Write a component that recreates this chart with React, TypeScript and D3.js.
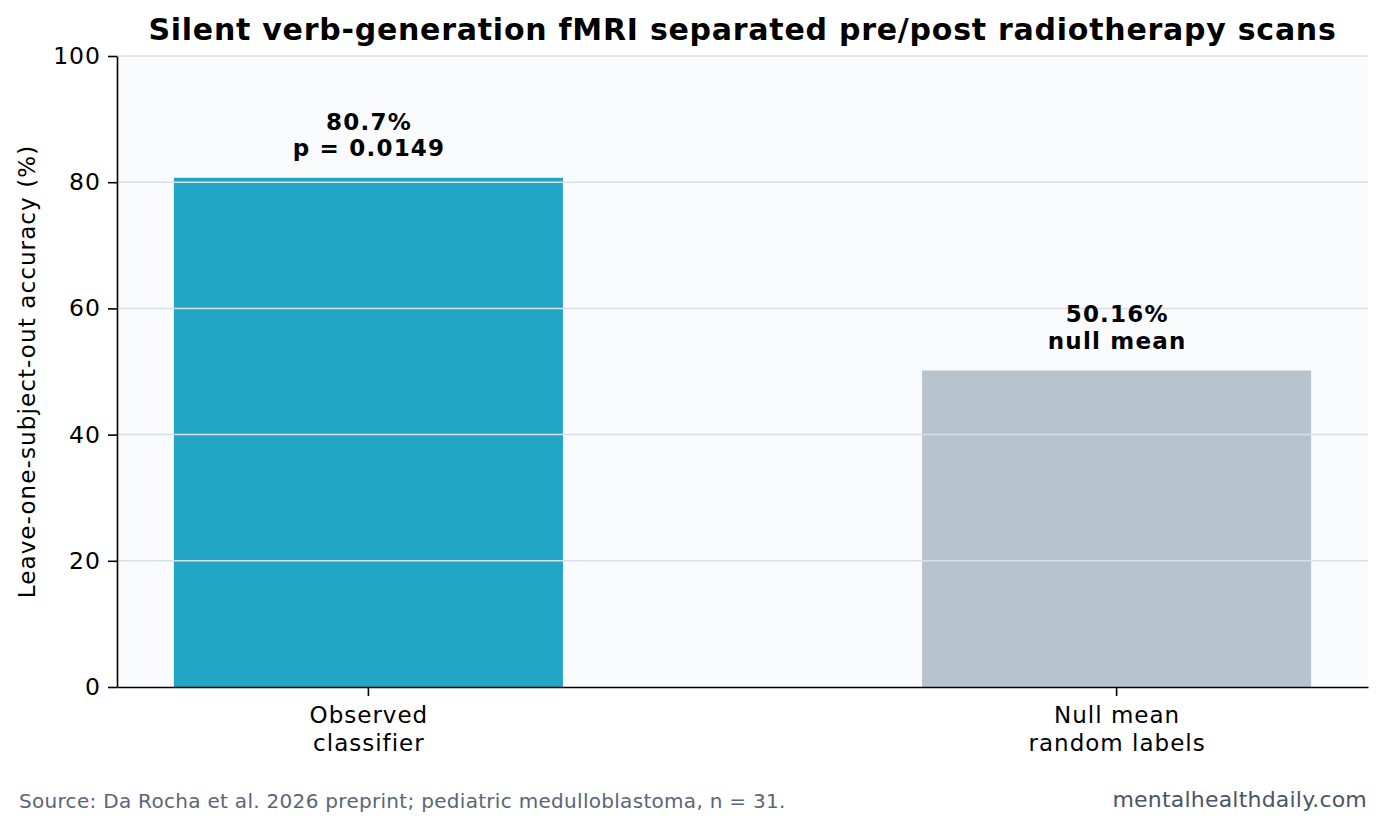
import { useRef, useEffect } from "react";
import * as d3 from "d3";

const categories = ["Observed\nclassifier", "Null mean\nrandom labels"];
const accuracies = [80.7, 50.16];
const barLabels = [
  ["80.7%", "p = 0.0149"],
  ["50.16%", "null mean"],
];
const barColors = ["#21a6c6", "#b8c4cd"];
const yTicks = [0, 20, 40, 60, 80, 100];

const W = 1385;
const H = 831;
const FONT = "DejaVu Sans, sans-serif";

const App = () => {
  const svgRef = useRef<SVGSVGElement>(null);

  useEffect(() => {
    const svg = d3.select(svgRef.current);
    svg.selectAll("*").remove();

    const margin = { top: 56, right: 17, bottom: 144, left: 117 };
    const innerW = W - margin.left - margin.right;
    const innerH = H - margin.top - margin.bottom;

    svg.append("rect").attr("width", W).attr("height", H).attr("fill", "#ffffff");

    const chart = svg
      .append("g")
      .attr("transform", `translate(${margin.left},${margin.top})`);

    const x = d3
      .scaleBand()
      .domain(categories)
      .range([0, innerW])
      .paddingInner(0.48)
      .paddingOuter(0.076);
    const y = d3.scaleLinear().domain([0, 100]).range([innerH, 0]);

    chart
      .append("rect")
      .attr("width", innerW)
      .attr("height", innerH)
      .attr("fill", "#f9fbfd");

    // bars
    chart
      .selectAll(".bar")
      .data(accuracies)
      .join("rect")
      .attr("class", "bar")
      .attr("x", (_, i) => x(categories[i]) as number)
      .attr("width", x.bandwidth())
      .attr("y", (d) => y(d))
      .attr("height", (d) => innerH - y(d))
      .attr("fill", (_, i) => barColors[i]);

    // grid drawn over the bars
    chart
      .append("g")
      .selectAll("line")
      .data(yTicks.filter((t) => t > 0))
      .join("line")
      .attr("x1", 0)
      .attr("x2", innerW)
      .attr("y1", (d) => y(d))
      .attr("y2", (d) => y(d))
      .attr("stroke", "#d9e0e8")
      .attr("stroke-width", 1.5);

    // value labels
    accuracies.forEach((v, i) => {
      const cx = (x(categories[i]) as number) + x.bandwidth() / 2;
      const lines = barLabels[i];
      lines.forEach((t, j) => {
        chart
          .append("text")
          .attr("x", cx + 0.6)
          .attr("y", y(v) - 21.5 - (lines.length - 1 - j) * 26.5)
          .attr("text-anchor", "middle")
          .attr("font-family", FONT)
          .attr("font-weight", "bold")
          .attr("font-size", 23)
          .attr("letter-spacing", 1.2)
          .attr("fill", "#000")
          .text(t);
      });
    });

    // y axis
    const yAxis = chart
      .append("g")
      .call(d3.axisLeft(y).tickValues(yTicks).tickSize(9).tickPadding(8).tickSizeOuter(0));
    yAxis.select(".domain").attr("stroke", "#000").attr("stroke-width", 1.6);
    yAxis.selectAll(".tick line").attr("stroke", "#000").attr("stroke-width", 1.6);
    yAxis
      .selectAll(".tick text")
      .attr("font-family", FONT)
      .attr("font-size", 23.5)
      .attr("letter-spacing", 1)
      .attr("dx", 1)
      .attr("fill", "#000");

    // x axis
    const xAxis = chart
      .append("g")
      .attr("transform", `translate(0,${innerH})`)
      .call(d3.axisBottom(x).tickSize(9).tickSizeOuter(0).tickFormat(() => ""));
    xAxis.select(".domain").attr("stroke", "#000").attr("stroke-width", 1.6);
    xAxis.selectAll(".tick line").attr("stroke", "#000").attr("stroke-width", 1.6);
    xAxis.selectAll(".tick").each(function (d) {
      const parts = String(d).split("\n");
      const t = d3
        .select(this)
        .append("text")
        .attr("text-anchor", "middle")
        .attr("font-family", FONT)
        .attr("font-size", 23)
        .attr("letter-spacing", 1)
        .attr("fill", "#000");
      parts.forEach((p, k) => {
        t.append("tspan").attr("x", 0.5).attr("y", 36 + k * 28).text(p);
      });
    });

    // y label
    svg
      .append("text")
      .attr("transform", `translate(34.5,${margin.top + innerH / 2}) rotate(-90)`)
      .attr("text-anchor", "middle")
      .attr("font-family", FONT)
      .attr("font-size", 23)
      .attr("letter-spacing", 1.1)
      .attr("fill", "#000")
      .text("Leave-one-subject-out accuracy (%)");

    // title
    svg
      .append("text")
      .attr("x", margin.left + innerW / 2)
      .attr("y", 40)
      .attr("text-anchor", "middle")
      .attr("font-family", FONT)
      .attr("font-weight", "bold")
      .attr("font-size", 30)
      .attr("letter-spacing", 0.75)
      .attr("fill", "#000")
      .text("Silent verb-generation fMRI separated pre/post radiotherapy scans");

    // footer
    svg
      .append("text")
      .attr("x", 19)
      .attr("y", 808)
      .attr("font-family", FONT)
      .attr("font-size", 20)
      .attr("letter-spacing", 0.3)
      .attr("fill", "#5a6577")
      .text("Source: Da Rocha et al. 2026 preprint; pediatric medulloblastoma, n = 31.");
    svg
      .append("text")
      .attr("x", 1367)
      .attr("y", 807)
      .attr("text-anchor", "end")
      .attr("font-family", FONT)
      .attr("font-size", 22)
      .attr("letter-spacing", 0.2)
      .attr("fill", "#4a5566")
      .text("mentalhealthdaily.com");
  }, []);

  return (
    <svg
      ref={svgRef}
      width={W}
      height={H}
      style={{ position: "absolute", left: 0, top: 0 }}
    ></svg>
  );
};

export default App;
